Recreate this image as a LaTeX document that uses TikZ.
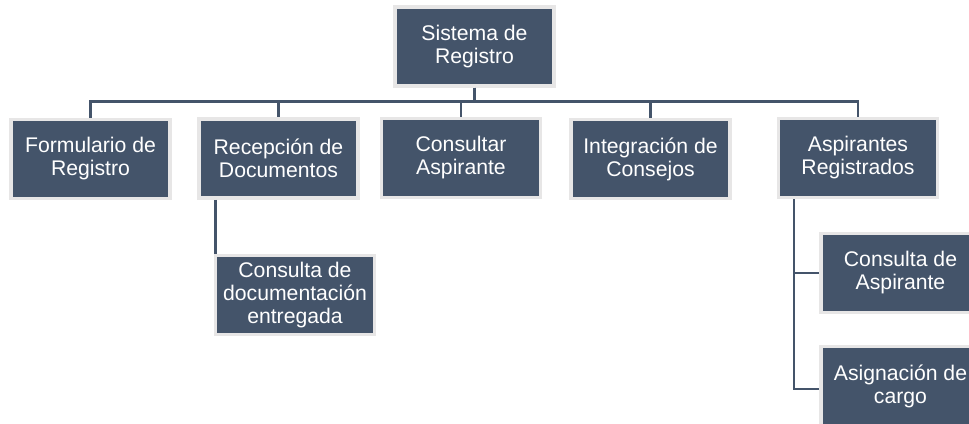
\documentclass[tikz,border=0pt]{standalone}
\usepackage{fontspec}
\setmainfont{Liberation Sans}
\usetikzlibrary{positioning,calc}
\definecolor{boxfill}{HTML}{44546A}
\definecolor{boxedge}{HTML}{E7E6E6}

\begin{document}
\begin{tikzpicture}[x=1pt,y=-1pt]
        \tikzset{
            unit/.style={rectangle, fill=boxfill, draw=boxedge, line width=3.5pt,
                minimum width=159pt, minimum height=79pt, align=center,
                text=white, inner sep=2pt,
                font=\fontsize{21.2}{23}\selectfont},
            link/.style={draw=boxfill, line width=2.8pt}
        }
        \useasboundingbox (0,0) rectangle (969,423);
        \begin{scope}
            \node[unit] (S) at (474.5, 46.5)
            {Sistema de\\Registro};
            \node[unit] (A1) at (90.5, 159)
            {Formulario de\\Registro};
            \node[unit] (A2) at (278.5, 158.5)
            {Recepción de\\Documentos};
            \node[unit] (A3) at (461, 158)
            {Consultar\\Aspirante};
            \node[unit] (A4) at (650.5, 159)
            {Integración de\\Consejos};
            \node[unit] (A5) at (858, 158)
            {Aspirantes\\Registrados};
            \node[unit] (B2) at (295, 295)
            {Consulta de\\documentación\\entregada};
            \node[unit] (B5) at (900.5, 273)
            {Consulta de\\Aspirante};
            \node[unit] (C5) at (900.5, 386)
            {Asignación de\\cargo};
        \end{scope}

        \coordinate (bus) at (0, 101.5);
        \coordinate (spine) at (794, 0);

        \begin{scope}[link]
            \draw (S.south) -- (S.south |- bus) -| (A1.north);
            \draw (S.south) -- (S.south |- bus) -| (A2.north);
            \draw (S.south) -- (S.south |- bus) -| (A3.north);
            \draw (S.south) -- (S.south |- bus) -| (A4.north);
            \draw (S.south) -- (S.south |- bus) -| (A5.north);
            \draw ([xshift=2pt]B2.north west |- A2.south) -- ([xshift=2pt]B2.north west);
            \draw (spine |- A5.south) |- ([yshift=-3pt]C5.west);
            \draw (spine |- B5.west) -- (B5.west);
        \end{scope}

        \end{tikzpicture}
\end{document}
